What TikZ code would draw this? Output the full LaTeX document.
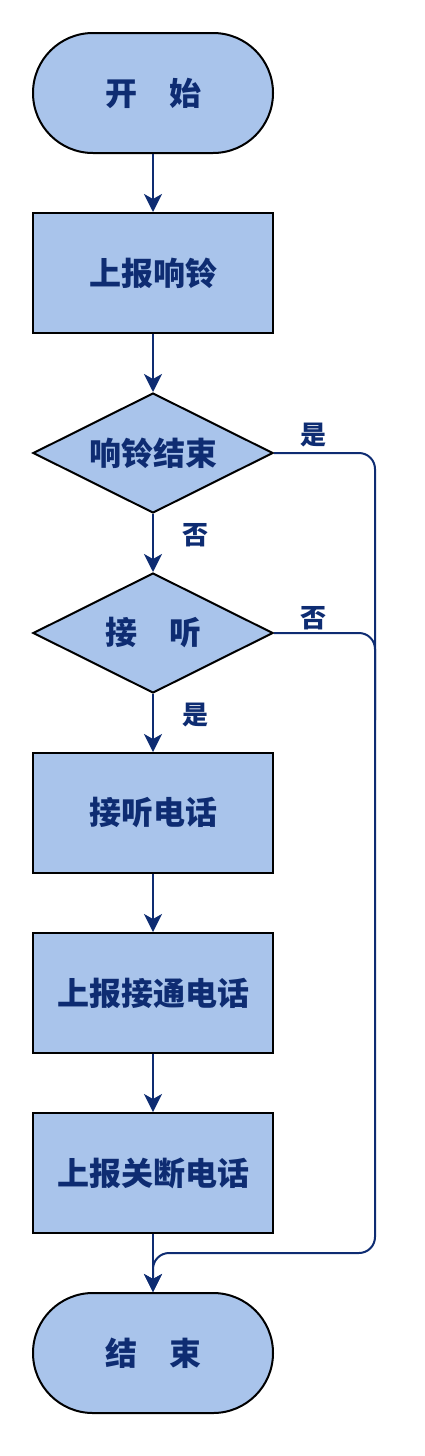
\documentclass[tikz,border=0pt]{standalone}
\usepackage{fontspec}
\newfontfamily\cjk{Noto Sans CJK SC}
\usetikzlibrary{shapes.geometric, arrows.meta}
\definecolor{boxblue}{RGB}{169,196,235}
\definecolor{navy}{RGB}{14,44,114}
\tikzset{
  base/.style = {draw = black, line width = 2pt, fill = boxblue, text = navy,
    font = \cjk\bfseries\fontsize{32}{38}\selectfont, minimum width = 240pt, minimum height = 120pt, inner sep = 0pt},
  term/.style = {base, rectangle, rounded corners = 59.9pt},
  proc/.style = {base, rectangle},
  decide/.style = {base, diamond, aspect = 2},
  conn/.style = {draw = navy, line width = 2pt, -{Stealth[length = 18pt, width = 18pt, inset = 5pt]}},
  rail/.style = {draw = navy, line width = 2pt, rounded corners = 16pt},
  tag/.style = {text = navy, font = \cjk\bfseries\fontsize{26}{30}\selectfont}
}
\begin{document}
\begin{tikzpicture}[x = 1pt, y = 1pt]
		\useasboundingbox (0, 0) rectangle (424, -1456);
		\node[term] (start) at (153, -93) {开\hspace{1em}始};
		\node[proc] (ring) at (153, -273) {上报响铃};
		\node[decide] (ringend) at (153, -453) {响铃结束};
		\node[decide] (answer) at (153, -633) {接\hspace{1em}听};
		\node[proc] (pick) at (153, -813) {接听电话};
		\node[proc] (connected) at (153, -993) {上报接通电话};
		\node[proc] (hangup) at (153, -1173) {上报关断电话};
		\node[term] (stop) at (153, -1353) {结\hspace{1em}束};
		\coordinate (corner) at (375, -1253);
		\coordinate (merge) at (375, -720);
		\draw[conn] (start) -- (ring);
		\draw[conn] (ring) -- (ringend);
		\draw[conn] (ringend) -- (answer);
		\draw[conn] (answer) -- (pick);
		\draw[conn] (pick) -- (connected);
		\draw[conn] (connected) -- (hangup);
		\draw[conn] (hangup) -- (stop);
		\draw[rail, conn] (ringend.east) -| (corner) -| (stop.north);
		\draw[rail] (answer.east) -| (merge);
		\node[tag] (yes1) at (313, -435) {是};
		\node[tag] (no1) at (195, -535) {否};
		\node[tag] (no2) at (313, -618) {否};
		\node[tag] (yes2) at (195, -715) {是};
	\end{tikzpicture}
\end{document}
